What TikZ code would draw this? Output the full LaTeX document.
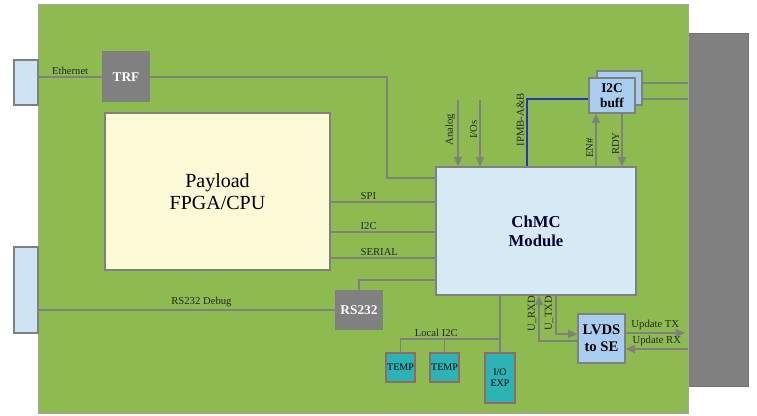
\documentclass[tikz,border=0pt]{standalone}
\usepackage{fontspec}
\setmainfont{Liberation Serif}
\usepackage{tikz}
\usetikzlibrary{arrows.meta, % for the triangle tips
                calc,
                positioning}

\definecolor{boardgreen}{RGB}{141,187,80}
\definecolor{wiregray}{RGB}{128,128,128}
\definecolor{chmcblue}{RGB}{214,234,246}
\definecolor{buffblue}{RGB}{169,205,238}
\definecolor{connblue}{RGB}{206,228,244}
\definecolor{payyellow}{RGB}{252,250,214}
\definecolor{tempteal}{RGB}{42,180,182}
\definecolor{ipmbblue}{RGB}{40,50,200}

\begin{document}
\begin{tikzpicture}[x=0.75pt, y=-0.75pt,
                    sz/.style 2 args={minimum width=#1*0.75pt, minimum height=#2*0.75pt, inner sep=0pt},
                    board/.style={fill=boardgreen, draw=wiregray!70, line width=0.6pt},
                    connbox/.style={fill=connblue, draw=wiregray, line width=0.8pt},
                    backplane/.style={fill=wiregray, draw=wiregray!90!black, line width=0.4pt},
                    graybox/.style={fill=wiregray, text=white, font=\fontsize{10}{11}\selectfont\bfseries},
                    payloadbox/.style={fill=payyellow, draw=wiregray, line width=1pt, align=center, font=\fontsize{15}{17}\selectfont},
                    chmcbox/.style={fill=chmcblue, draw=wiregray, line width=1.2pt, align=center, text=black!80!blue, font=\fontsize{12.5}{14}\selectfont\bfseries},
                    buffbox/.style={fill=buffblue, draw=wiregray, line width=1pt, align=center, font=\fontsize{10}{11}\selectfont\bfseries},
                    tempbox/.style={fill=tempteal, draw=wiregray!80!red, line width=0.8pt, align=center, font=\fontsize{7.5}{8.5}\selectfont},
                    wire/.style={draw=wiregray, line width=1.2pt},
                    arr/.style={wire, -{Triangle[length=7pt,width=6pt]}},
                    ipmb/.style={draw=ipmbblue, line width=1.5pt},
                    lbl/.style={font=\fontsize{8}{9}\selectfont, text=black!85, inner sep=1.5pt}
                    ]
    \useasboundingbox (0,0) rectangle (757,416);

    % BOARD AND CONNECTORS %
    \node[backplane, sz={60}{353}] (BP) at (718.5,209.5) {};
    \node[board, sz={650}{409}] (Board) at (363,208.5) {};
    \node[connbox, sz={24}{45}] (EthConn) at (26,82.5) {};
    \node[connbox, sz={24}{86}] (DbgConn) at (26,290) {};

    % BLOCKS %
    \node[graybox, sz={48}{51}] (TRF) at (126,77) {TRF};
    \node[payloadbox, sz={225}{157}] (Payload) at (217.5,191.5) {Payload\\FPGA/CPU};
    \node[chmcbox, sz={200}{128}] (ChMC) at (536,231) {ChMC\\Module};
    \node[buffbox, sz={45}{34}] (BuffB) at (619.5,88) {};
    \node[buffbox, sz={46}{35}] (Buff) at (612,95.5) {I2C\\buff};
    \node[graybox, sz={48}{40}] (RS) at (359,310) {RS232};
    \node[buffbox, sz={47}{49}, font=\fontsize{11}{13}\selectfont\bfseries] (LVDS) at (601.5,338.5) {LVDS\\to SE};
    \node[tempbox, sz={29}{29}] (Temp1) at (400.5,367.5) {TEMP};
    \node[tempbox, sz={29}{29}] (Temp2) at (444.5,367.5) {TEMP};
    \node[tempbox, sz={30}{50}] (IOEXP) at (500,378) {I/O\\EXP};

    % ETHERNET %
    \coordinate (EthBend) at (387,178);
    \draw[wire] (EthConn.east |- TRF.west) -- node[lbl, above]{Ethernet} (TRF.west);
    \draw[wire] (TRF.east) -| (EthBend) -- (EthBend -| ChMC.west);

    % PAYLOAD LINKS %
    \foreach \n/\y/\txt in {Spi/202/SPI, Iic/232/I2C, Ser/258/SERIAL}{
    \coordinate (\n) at (383,\y);
    \draw[wire] (Payload.east |- \n) -- node[lbl, anchor=south west, pos=0.26]{\txt} (ChMC.west |- \n);
    }

    % RS232 %
    \coordinate (RsBend) at (383,280);
    \draw[wire] (RS.north) |- (ChMC.west |- RsBend);
    \draw[wire] (DbgConn.east |- RS.west) -- node[lbl, above, pos=0.55]{RS232 Debug} (RS.west);

    % TOP INPUTS %
    \foreach \n/\x/\txt in {Analog/458/Analog, Ios/480/{I/Os}}{
    \coordinate (\n) at (\x,100);
    \draw[arr] (\n) -- node[lbl, rotate=90, anchor=south, pos=0.45]{\txt} (\n |- ChMC.north);
    }

    % IPMB AND I2C BUFFER %
    \coordinate (Ipmb) at (527,99);
    \draw[ipmb] (Ipmb |- ChMC.north) |- node[lbl, rotate=90, anchor=south, pos=0.345]{IPMB-A\&B} (Buff.west |- Ipmb);
    \coordinate (En) at (596,140);
    \coordinate (Rdy) at (622,140);
    \draw[arr] (En |- ChMC.north) -- node[lbl, rotate=90, anchor=south, pos=0.35]{EN\#} (En |- Buff.south);
    \draw[arr] (Rdy |- Buff.south) -- node[lbl, rotate=90, anchor=south, pos=0.57]{RDY} (Rdy |- ChMC.north);
    \foreach \n/\y in {a/83,b/99}{
    \coordinate (BusR\n) at (688,\y);
    \draw[wire] (BuffB.east |- BusR\n) -- (BusR\n);
    }

    % LOCAL I2C %
    \coordinate (Lbus) at (500,339);
    \draw[wire] (IOEXP.north) -- (IOEXP.north |- ChMC.south);
    \draw[wire] (Temp1.north) |- node[lbl, above, pos=0.68]{Local I2C} (Lbus);
    \draw[wire] (Temp2.north) -- (Temp2.north |- Lbus);

    % UART AND LVDS %
    \coordinate (Rxd) at (539,341);
    \coordinate (Txd) at (556,334);
    \draw[arr] (LVDS.west |- Rxd) -| node[lbl, rotate=90, anchor=south, pos=0.8]{U\_RXD} (Rxd |- ChMC.south);
    \draw[arr] (Txd |- ChMC.south) |- node[lbl, rotate=90, anchor=south, pos=0.23]{U\_TXD} (LVDS.west |- Txd);
    \coordinate (Utx) at (685,333);
    \coordinate (Urx) at (688,349);
    \draw[arr] (LVDS.east |- Utx) -- node[lbl, above]{Update TX} (Utx);
    \draw[arr] (Urx) -- node[lbl, above]{Update RX} (LVDS.east |- Urx);

\end{tikzpicture}
\end{document}
